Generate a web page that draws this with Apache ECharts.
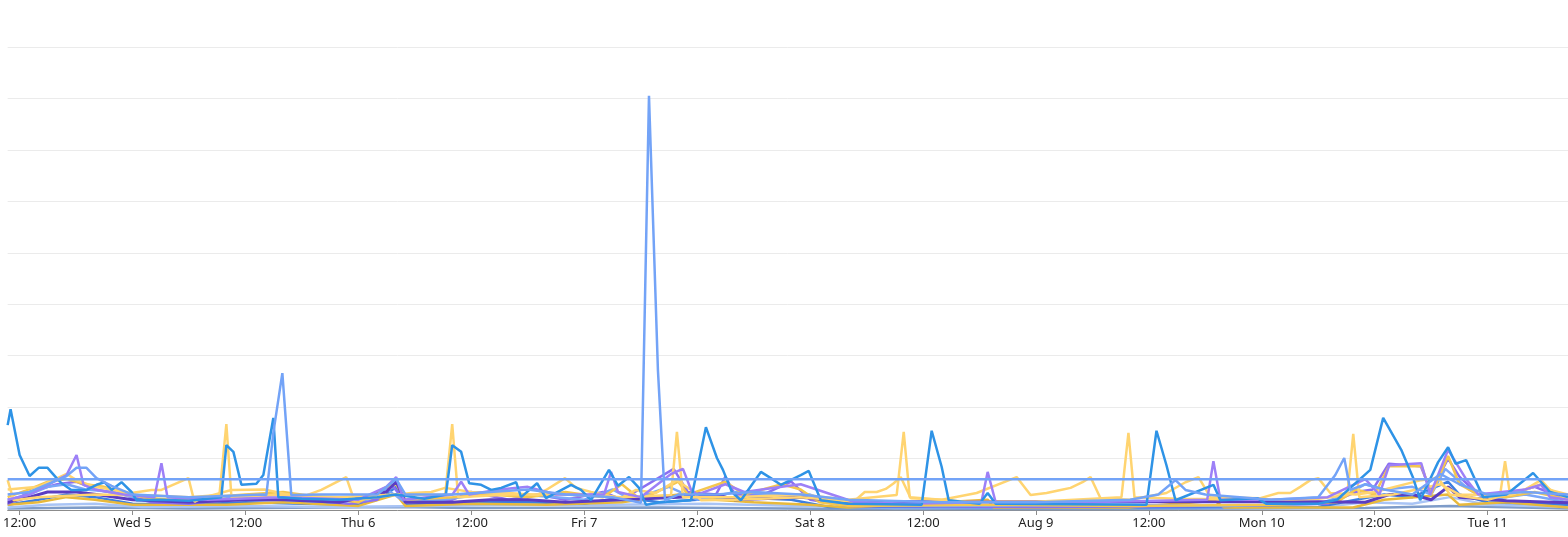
<!DOCTYPE html>
<html>
<head>
<meta charset="utf-8">
<script src="https://cdn.jsdelivr.net/npm/echarts@6/dist/echarts.min.js"></script>
<style>
html,body{margin:0;padding:0;background:#fff;}
#chart{width:1568px;height:537px;}
</style>
</head>
<body>
<div id="chart"></div>
<script>
// Hours since Aug 4 2020 00:00
const tickHours = [12,24,36,48,60,72,84,96,108,120,132,144,156,168];
const tickLabels = ["12:00","Wed 5","12:00","Thu 6","12:00","Fri 7","12:00","Sat 8","12:00","Aug 9","12:00","Mon 10","12:00","Tue 11"];
const xMin = 10.73, xMax = 176.54;

const nearZero = [[10.73,0.03],[20,0.05],[30,0.03],[52,0.06],[60,0.04],[80,0.05],[100,0.02],[130,0.02],[155,0.04],[164,0.08],[176.54,0.03]];
const lowPale = [[10.73,0.05],[15,0.1],[20,0.12],[25,0.06],[35,0.08],[45,0.06],[55,0.08],[65,0.1],[75,0.1],[85,0.12],[95,0.08],[105,0.04],[120,0.05],[135,0.04],[150,0.05],[155,0.15],[160,0.12],[164,0.25],[168,0.1],[176.54,0.06]];
const lowBlue = [[10.73,0.1],[14,0.2],[17,0.3],[20,0.25],[24,0.12],[30,0.1],[36,0.15],[42,0.12],[48,0.1],[51,0.3],[52,0.45],[53,0.1],[60,0.15],[66,0.15],[72,0.12],[76,0.25],[80,0.15],[84,0.2],[88,0.25],[94,0.2],[98,0.06],[130,0.05],[150,0.06],[154,0.2],[157,0.3],[160,0.25],[163.8,0.55],[165,0.3],[168,0.15],[176.54,0.1]];
const lowGold = [[10.73,0.1],[14,0.15],[17,0.25],[20,0.2],[24,0.1],[34,0.1],[40,0.15],[48,0.08],[52,0.3],[53,0.08],[60,0.12],[68,0.1],[76,0.15],[82,0.3],[86,0.2],[90,0.15],[96,0.1],[100,0.05],[114.9,0.2],[115.5,0.05],[129.8,0.05],[139,0.18],[140,0.05],[153.7,0.05],[157,0.2],[163.8,0.3],[165,0.1],[170,0.15],[176.54,0.05]];
const darkPurple = [[10.73,0.15],[13.06,0.25],[14.97,0.35],[18.05,0.35],[20.17,0.3],[24,0.2],[30,0.15],[36,0.2],[40,0.2],[46,0.15],[50.96,0.35],[52.02,0.55],[53,0.15],[58,0.15],[62,0.2],[66,0.2],[70,0.15],[76,0.2],[82,0.25],[86,0.3],[88,0.2],[95,0.25],[98,0.2],[100,0.16],[120,0.16],[150,0.16],[155,0.15],[157.54,0.3],[160,0.3],[162,0.2],[163.8,0.45],[165,0.25],[170,0.18],[176.54,0.14]];
const midPurple = [[10.73,0.12],[13,0.35],[16,0.5],[18,0.55],[20,0.4],[23,0.3],[26,0.15],[30,0.12],[34,0.2],[38,0.25],[42,0.2],[47,0.12],[50,0.2],[51.5,0.5],[53,0.15],[58,0.2],[60,0.35],[64,0.2],[67,0.3],[70,0.2],[74,0.35],[76,0.2],[81.5,0.8],[83,0.35],[86,0.3],[87,0.65],[88,0.3],[91,0.3],[94,0.55],[96,0.2],[100,0.08],[120,0.06],[140,0.08],[151,0.12],[154,0.35],[155.8,0.4],[157.5,0.9],[160.9,0.85],[162,0.35],[163.8,1.0],[165,0.65],[167,0.3],[171,0.35],[173,0.45],[176.54,0.2]];
const midLightBlue = [[10.73,0.2],[13,0.3],[15,0.45],[17,0.5],[19,0.4],[22,0.35],[25,0.2],[30,0.15],[35,0.25],[40,0.2],[45,0.15],[49,0.2],[51,0.4],[53,0.15],[57,0.2],[61,0.3],[65,0.3],[69,0.25],[72,0.2],[75,0.4],[77,0.2],[81,0.45],[84,0.2],[88,0.35],[92,0.3],[96,0.3],[99,0.1],[110,0.08],[126,0.1],[140,0.08],[150,0.12],[153,0.3],[155,0.5],[157,0.4],[160,0.45],[162,0.3],[163.5,0.8],[166,0.4],[168,0.2],[172,0.3],[176.54,0.15]];
const midYellow = [[10.73,0.25],[13,0.4],[15,0.55],[17,0.6],[19,0.5],[21,0.45],[23,0.35],[25,0.25],[28,0.2],[32,0.25],[36,0.3],[40,0.35],[44,0.25],[48,0.15],[51,0.45],[52,0.5],[53,0.2],[58,0.25],[62,0.3],[66,0.25],[70,0.35],[74,0.25],[76,0.5],[78,0.2],[82,0.55],[83,0.3],[87,0.55],[89,0.3],[93,0.5],[95,0.4],[97,0.15],[100,0.08],[115,0.1],[130,0.08],[145,0.1],[152,0.15],[154,0.4],[156,0.3],[157.5,0.85],[161,0.85],[162,0.3],[163.8,1.05],[165,0.5],[167,0.3],[170,0.25],[173,0.35],[176.54,0.2]];
const yellowSlow = [[10.73,0.4],[14,0.45],[16.99,0.7],[18.05,0.58],[20,0.45],[23.89,0.33],[26.01,0.39],[27.07,0.39],[29.94,0.62],[30.58,0.16],[31.32,0.23],[34.51,0.39],[38,0.4],[41.94,0.25],[44.06,0.39],[46.71,0.64],[47.56,0.19],[50,0.25],[53.61,0.33],[55.74,0.35],[57.22,0.43],[60,0.35],[64,0.33],[66.99,0.29],[67.94,0.39],[69.96,0.62],[71.13,0.43],[72.72,0.35],[74.85,0.27],[75.9,0.23],[77.5,0.39],[79.62,0.33],[81.85,0.58],[83.34,0.39],[84.4,0.19],[88,0.2],[95,0.25],[100.64,0.16],[101.81,0.35],[103.08,0.35],[104.04,0.41],[104.89,0.52],[105.63,0.64],[106.7,0.23],[110,0.2],[113.7,0.33],[117.95,0.64],[119.43,0.29],[121.13,0.33],[122.62,0.39],[123.68,0.43],[124.95,0.54],[125.8,0.64],[126.86,0.23],[130,0.2],[133.87,0.33],[135.89,0.54],[137.27,0.64],[138.54,0.25],[143.85,0.23],[145.76,0.33],[147.03,0.33],[148.09,0.45],[149.16,0.58],[150,0.62],[151.28,0.33],[154,0.3],[156,0.35],[160.94,0.58],[162.74,0.62],[164,0.3],[168,0.2],[172,0.4],[173.68,0.58],[174.63,0.39],[176.54,0.3]];
const yellowSpikes = [[10.73,0.58],[11.36,0.19],[14,0.25],[20,0.3],[26,0.28],[30,0.25],[33.23,0.29],[33.97,1.67],[34.51,0.25],[40,0.3],[46,0.25],[52,0.3],[57.22,0.29],[57.97,1.67],[58.6,0.25],[64,0.3],[70,0.3],[76,0.25],[81.22,0.29],[81.85,1.52],[82.49,0.25],[88,0.25],[95,0.3],[100,0.2],[105.2,0.29],[105.95,1.52],[106.59,0.25],[112.64,0.16],[120,0.16],[129.09,0.25],[129.83,1.5],[130.47,0.25],[135,0.22],[145,0.2],[150,0.22],[153.08,0.29],[153.72,1.48],[154.36,0.25],[158,0.3],[163,0.5],[165,0.3],[169.32,0.29],[169.85,0.95],[170.39,0.29],[173.68,0.5],[176.54,0.2]];
const purpleSpikes = [[10.73,0.2],[13.06,0.3],[16.99,0.68],[18.05,1.07],[18.79,0.49],[20,0.4],[23,0.3],[26.33,0.25],[27.07,0.91],[27.71,0.25],[32,0.2],[40,0.25],[48,0.2],[50.96,0.45],[52.02,0.64],[52.8,0.2],[58,0.3],[58.92,0.55],[59.77,0.3],[63,0.4],[66,0.45],[69,0.3],[74.1,0.3],[74.85,0.74],[75.59,0.35],[78,0.25],[81.22,0.7],[82.49,0.8],[83.34,0.4],[84,0.3],[87,0.5],[89,0.35],[93,0.45],[95,0.5],[100.64,0.16],[106,0.12],[114.2,0.15],[114.87,0.74],[115.72,0.15],[125,0.15],[138.2,0.2],[138.86,0.95],[139.6,0.2],[145,0.2],[151,0.25],[155,0.6],[156.5,0.3],[157.54,0.87],[160.94,0.91],[161.9,0.3],[163.8,1.17],[165.71,0.6],[167,0.3],[172,0.4],[173.68,0.49],[174.63,0.25],[176.54,0.2]];
const darkBlue = [[10.73,1.65],[11.04,1.96],[12,1.07],[13.06,0.66],[14.02,0.82],[14.97,0.82],[15.93,0.62],[16.46,0.52],[17.5,0.39],[19.11,0.39],[20.17,0.49],[21.02,0.54],[21.77,0.39],[22.83,0.54],[23.89,0.35],[24.42,0.19],[27,0.2],[30,0.18],[33.44,0.25],[33.97,1.26],[34.72,1.13],[35.57,0.49],[37.16,0.51],[37.9,0.68],[38.96,1.79],[39.49,0.25],[42,0.22],[46,0.2],[50,0.25],[52,0.3],[55,0.22],[57.3,0.3],[57.97,1.26],[58.92,1.13],[59.77,0.52],[61.04,0.49],[62.11,0.39],[63.17,0.43],[64.76,0.54],[65.29,0.25],[66.99,0.52],[67.94,0.23],[70.6,0.49],[71.66,0.39],[72.72,0.19],[74.63,0.78],[75.59,0.47],[76.76,0.64],[77.82,0.43],[78.56,0.1],[80,0.15],[83.34,0.19],[84.93,1.61],[86.1,1.01],[86.74,0.78],[87.69,0.35],[88.65,0.19],[90.77,0.74],[91.83,0.62],[92.89,0.49],[95.01,0.68],[95.86,0.76],[97.14,0.19],[100,0.12],[107.86,0.1],[108.92,1.54],[109.98,0.84],[110.73,0.19],[114,0.12],[114.87,0.33],[115.72,0.12],[131.75,0.1],[132.81,1.54],[133.87,0.87],[134.83,0.19],[138.86,0.49],[139.6,0.19],[143.53,0.23],[144.5,0.12],[150,0.12],[152,0.2],[155.53,0.78],[156.9,1.79],[158.82,1.17],[160.09,0.62],[160.83,0.19],[162.74,0.93],[163.8,1.22],[164.6,0.9],[165.71,0.97],[167.52,0.25],[170,0.3],[172.83,0.72],[174.63,0.35],[176.54,0.25]];
const lightBlue = [[10.73,0.3],[13.06,0.35],[16.99,0.66],[18.05,0.82],[19.11,0.82],[20.17,0.62],[21.77,0.47],[24,0.3],[30,0.25],[37.9,0.3],[38.22,0.29],[38.96,1.5],[39.92,2.66],[40.87,0.29],[44,0.3],[50,0.3],[52.02,0.6],[53,0.3],[58,0.3],[62,0.35],[66,0.4],[70,0.3],[75,0.25],[78.03,0.14],[78.88,8.05],[79.83,2.72],[80.58,0.19],[82,0.3],[86,0.3],[90,0.35],[95,0.3],[100,0.2],[110,0.15],[120,0.15],[130,0.2],[133,0.3],[134.83,0.58],[135.89,0.39],[138,0.3],[145,0.2],[150,0.25],[151.81,0.68],[152.76,1.01],[153.4,0.39],[155,0.5],[157,0.4],[160,0.3],[163,0.7],[165,0.5],[168,0.3],[172,0.35],[176.54,0.3]];
const constLine = [[10.73,0.6],[176.54,0.6]];

const seriesDefs = [
  ["nearZero", nearZero, "#7E9CC9"],
  ["pale", lowPale, "#A9C4F5"],
  ["blue", lowBlue, "#3D7FE0"],
  ["gold", lowGold, "#E8B93C"],
  ["midPurple", midPurple, "#8B6FF2"],
  ["midLightBlue", midLightBlue, "#7AA7F9"],
  ["midYellow", midYellow, "#F4C64F"],
  ["darkPurple", darkPurple, "#5B3DC2"],
  ["yellowSlow", yellowSlow, "#FFD470"],
  ["yellowSpikes", yellowSpikes, "#FFD470"],
  ["purpleSpikes", purpleSpikes, "#9D80F7"],
  ["darkBlue", darkBlue, "#2E93E6"],
  ["lightBlue", lightBlue, "#73A3F7"],
  ["constant", constLine, "#73A3F7"]
];

const chart = echarts.init(document.getElementById('chart'));
chart.setOption({
  animation: false,
  backgroundColor: '#fff',
  grid: {left: 6, right: 0, top: 47, bottom: 27, containLabel: false},
  xAxis: {
    type: 'value', min: xMin, max: xMax,
    splitLine: {show: false},
    axisLine: {show: true, lineStyle: {color: '#8c8c8c', width: 1}},
    axisTick: {show: true, customValues: tickHours, length: 5, lineStyle: {color: '#8c8c8c'}},
    axisLabel: {
      customValues: tickHours, color: '#222', fontSize: 13, margin: 7,
      fontFamily: 'Noto Sans',
      formatter: function (v) { const i = tickHours.indexOf(Math.round(v)); return i >= 0 ? tickLabels[i] : ''; }
    }
  },
  yAxis: {
    type: 'value', min: 0, max: 9, interval: 1,
    axisLabel: {show: false}, axisTick: {show: false}, axisLine: {show: false},
    splitLine: {show: true, lineStyle: {color: '#ebebeb', width: 1}}
  },
  series: seriesDefs.map(d => ({
    name: d[0], type: 'line', data: d[1], showSymbol: false, symbol: 'none',
    lineStyle: {color: d[2], width: d[0] === 'darkPurple' ? 3 : 2.5}, itemStyle: {color: d[2]}, z: 2
  }))
});
</script>
</body>
</html>
